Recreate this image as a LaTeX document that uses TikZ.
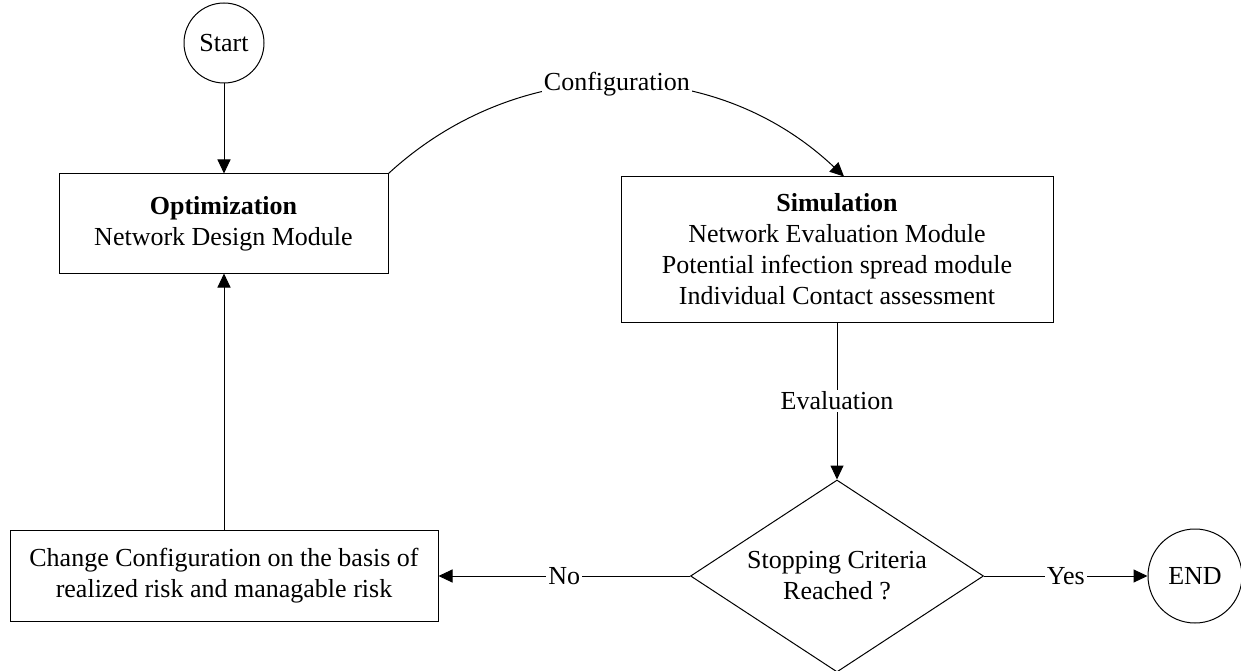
\documentclass[tikz,border=0pt]{standalone}
\usepackage{fontspec}
\setmainfont{Liberation Serif}
\usetikzlibrary{shapes.geometric, arrows.meta}

\begin{document}
\begin{tikzpicture}[x=1pt, y=1pt, line width=1pt,
    >={Triangle[length=14pt, width=13pt]},
    font=\fontsize{26}{31}\selectfont,
    block/.style={
		% The shape:
		rectangle,
		% The border
		draw=black,
		% The text
		align=center},
    terminal/.style={
		% The shape:
		circle,
		% The border
		draw=black, inner sep=0pt},
    decision/.style={
		% The shape:
		diamond, aspect=1.5,
		% The border
		draw=black, inner sep=0pt,
		% The text
		align=center},
    tag/.style={fill=white, inner sep=2pt}]
    \useasboundingbox (0,0) rectangle (1241,-671);
    \node [terminal, minimum size=80pt] (start) at (224,-43) {Start};
    \node [block, minimum width=329pt, minimum height=99pt] (opt) at (223.5,-223.5) {\textbf{Optimization}\\Network Design Module};
    \node [block, minimum width=432pt, minimum height=145pt] (sim) at (837,-249.5) {\textbf{Simulation}\\Network Evaluation Module\\Potential infection spread module\\Individual Contact assessment};
    \node [decision, minimum width=293pt, minimum height=192pt] (dec) at (837,-576) {Stopping Criteria\\Reached ?};
    \node [terminal, minimum size=94pt] (stop) at (1195,-576) {END};
    \node [block, minimum width=428pt, minimum height=91pt] (chg) at (224,-576) {Change Configuration on the basis of\\realized risk and managable risk};
    \draw [->] (start) -- (start |- opt.north);
    \draw [->] (opt.north east) to [bend left=43] node [tag] {Configuration} ([xshift=7pt]sim.north);
    \draw [->] (sim) -- node [tag] {Evaluation} (dec);
    \draw [->] (dec) -- node [tag] {Yes} (stop);
    \draw [->] (dec) -- node [tag] {No} (chg);
    \draw [->] (chg) -- (chg |- opt.south);
\end{tikzpicture}
\end{document}
